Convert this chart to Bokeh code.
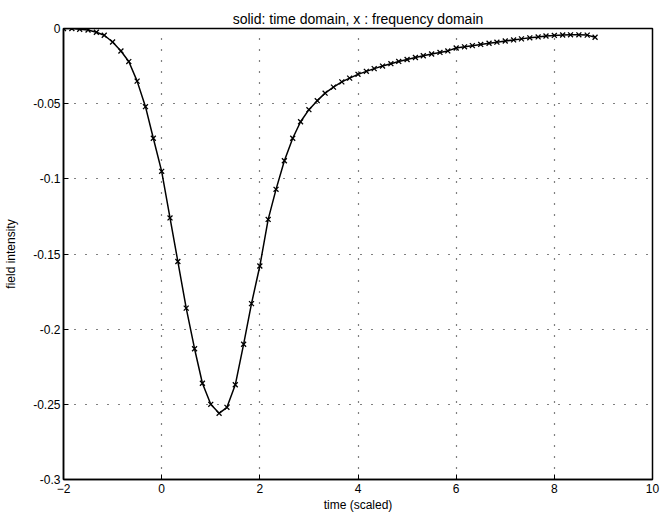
from bokeh.plotting import figure
from bokeh.models import FixedTicker, Range1d
from bokeh.embed import file_html
from bokeh.resources import INLINE

# Pulse sampled in scaled time
t = [-2.0, -1.83, -1.67, -1.5, -1.33, -1.17, -1.0, -0.83, -0.67, -0.5, -0.33, -0.17,
     0.0, 0.17, 0.33, 0.5, 0.67, 0.83, 1.0, 1.17, 1.33, 1.5, 1.67, 1.83,
     2.0, 2.17, 2.33, 2.5, 2.67, 2.83, 3.0, 3.17, 3.33, 3.5, 3.67, 3.83,
     4.0, 4.17, 4.33, 4.5, 4.67, 4.83, 5.0, 5.17, 5.33, 5.5, 5.67, 5.83,
     6.0, 6.17, 6.33, 6.5, 6.67, 6.83, 7.0, 7.17, 7.33, 7.5, 7.67, 7.83,
     8.0, 8.17, 8.33, 8.5, 8.67, 8.83]

# solid: time-domain solution
field_time = [0.0, 0.0, -0.0005, -0.001, -0.0025, -0.0045, -0.009, -0.015, -0.022, -0.035, -0.052, -0.073,
              -0.095, -0.126, -0.155, -0.186, -0.213, -0.236, -0.250, -0.256, -0.252, -0.237, -0.210, -0.183,
              -0.158, -0.127, -0.107, -0.088, -0.073, -0.062, -0.054, -0.048, -0.043, -0.039, -0.0355, -0.033,
              -0.0305, -0.0285, -0.0267, -0.025, -0.0234, -0.0219, -0.0206, -0.0193, -0.0181, -0.0170, -0.0159, -0.0149,
              -0.0130, -0.0122, -0.0114, -0.0106, -0.0098, -0.0091, -0.0083, -0.0076, -0.0069, -0.0062, -0.0056, -0.0050,
              -0.0046, -0.0043, -0.0042, -0.0042, -0.0044, -0.0058]

# x: frequency-domain solution at the same instants
field_freq = list(field_time)

x_ticks = [-2, 0, 2, 4, 6, 8, 10]
y_ticks = [0, -0.05, -0.1, -0.15, -0.2, -0.25, -0.3]
y_tick_labels = ["0", "-0.05", "-0.1", "-0.15", "-0.2", "-0.25", "-0.3"]

FONT = "Liberation Sans"

p = figure(width=660, height=524, output_backend="svg", toolbar_location=None,
           x_range=Range1d(-2, 10), y_range=Range1d(-0.3, 0),
           min_border_left=63, min_border_right=8, min_border_top=28, min_border_bottom=45,
           title="solid: time domain, x : frequency domain")

p.title.align = "center"
p.title.text_font = FONT
p.title.text_font_size = "14px"
p.title.text_font_style = "normal"
p.title.text_color = "black"
p.title.offset = 0
p.title.standoff = 4

p.background_fill_color = "white"
p.border_fill_color = "white"
p.outline_line_color = "black"
p.outline_line_width = 1.5

p.xaxis.ticker = FixedTicker(ticks=x_ticks)
p.yaxis.ticker = FixedTicker(ticks=y_ticks)
p.yaxis.major_label_overrides = {v: s for v, s in zip(y_ticks, y_tick_labels)}

for ax in (p.xaxis[0], p.yaxis[0]):
    ax.axis_line_color = "black"
    ax.axis_line_width = 1.5
    ax.major_tick_in = 5
    ax.major_tick_out = 0
    ax.minor_tick_line_color = None
    ax.major_tick_line_color = "black"
    ax.major_label_text_font = FONT
    ax.major_label_text_font_size = "12px"
    ax.major_label_text_color = "black"
    ax.axis_label_text_font = FONT
    ax.axis_label_text_font_size = "12px"
    ax.axis_label_text_font_style = "normal"
    ax.axis_label_text_color = "black"

p.xaxis.axis_label = "time (scaled)"
p.yaxis.axis_label = "field intensity"
p.xaxis.major_label_standoff = 4
p.xaxis.axis_label_standoff = 2
p.yaxis.major_label_standoff = 3
p.yaxis.axis_label_standoff = 12

p.xgrid.grid_line_color = "black"
p.ygrid.grid_line_color = "black"
p.xgrid.grid_line_dash = "1 10"
p.ygrid.grid_line_dash = "1 10"
p.xgrid.grid_line_width = 1.2
p.ygrid.grid_line_width = 1.2

p.line(t, field_time, line_color="black", line_width=1.5)
p.scatter(t, field_freq, marker="x", size=7, line_color="black", line_width=1.3)

open("out.html", "w").write(file_html(p, INLINE))
